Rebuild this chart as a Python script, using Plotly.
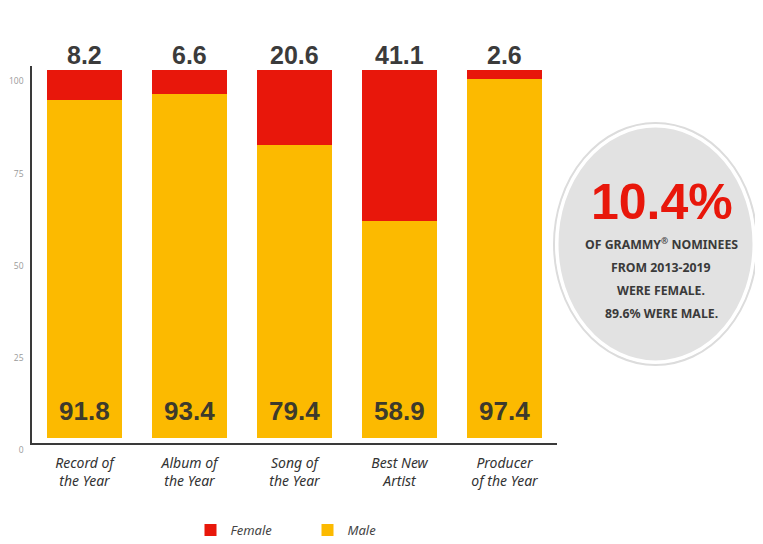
import plotly.graph_objects as go

categories = ["Record of<br>the Year", "Album of<br>the Year", "Song of<br>the Year", "Best New<br>Artist", "Producer<br>of the Year"]
female = [8.2, 6.6, 20.6, 41.1, 2.6]
male = [91.8, 93.4, 79.4, 58.9, 97.4]
y_ticks = [0, 25, 50, 75, 100]
headline = "10.4%"
callout_lines = ["OF GRAMMY<sup>®</sup> NOMINEES", "FROM 2013-2019", "WERE FEMALE.", "89.6% WERE MALE."]

RED = "#e8170b"
YEL = "#fcba00"
NUMFONT = "Liberation Sans, Arial, sans-serif"

x = list(range(len(categories)))

fig = go.Figure()
fig.add_trace(go.Bar(x=x, y=male, name="Male", marker=dict(color=YEL, line=dict(width=0)),
                     legendrank=2, hoverinfo="skip"))
fig.add_trace(go.Bar(x=x, y=female, name="Female", marker=dict(color=RED, line=dict(width=0)),
                     legendrank=1, hoverinfo="skip"))

# labels above bars (female share) and inside bars (male share)
for xi, f, m in zip(x, female, male):
    fig.add_annotation(x=xi, y=f + m, xref="x", yref="y", text=f"<b>{f}</b>", showarrow=False,
                       yanchor="bottom", yshift=-1,
                       font=dict(family=NUMFONT, size=25, color="#3b3b3b"))
    fig.add_annotation(x=xi, y=0, xref="x", yref="y", text=f"<b>{m}</b>", showarrow=False,
                       yanchor="bottom", yshift=10,
                       font=dict(family=NUMFONT, size=26, color="#3d3a2c"))

# page pixel -> paper coordinates (plot area spans page x 32..557, y 66..443)
def px_to_paper_x(p):
    return (p - 32) / 525

def px_to_paper_y(p):
    return (443 - p) / 377

# callout ellipse
fig.add_shape(type="circle", xref="paper", yref="paper",
              x0=px_to_paper_x(554), x1=px_to_paper_x(757), y0=px_to_paper_y(365), y1=px_to_paper_y(123),
              fillcolor="rgba(0,0,0,0)", line=dict(color="#dcdcdc", width=2), layer="below")
fig.add_shape(type="circle", xref="paper", yref="paper",
              x0=px_to_paper_x(557), x1=px_to_paper_x(754), y0=px_to_paper_y(362), y1=px_to_paper_y(126),
              fillcolor="#e2e2e2", line=dict(color="#ffffff", width=3), layer="below")

fig.add_annotation(x=px_to_paper_x(662), y=px_to_paper_y(202), xref="paper", yref="paper",
                   text=f"<b>{headline}</b>", showarrow=False, yanchor="middle", xanchor="center",
                   font=dict(family=NUMFONT, size=50, color=RED))
for i, line in enumerate(callout_lines):
    fig.add_annotation(x=px_to_paper_x(661), y=px_to_paper_y(244 + 23.3 * i), xref="paper", yref="paper",
                       text=f"<b>{line}</b>", showarrow=False, yanchor="middle", xanchor="center",
                       font=dict(family="Noto Sans, sans-serif", size=12.3, color="#3a3a3a"))

# The page body adds an 8px offset, so the figure is 8px smaller and margins shifted by -8
fig.update_layout(
    barmode="stack",
    bargap=0.286,
    width=755, height=536,
    margin=dict(l=24, r=206, t=58, b=101, autoexpand=False),
    paper_bgcolor="white", plot_bgcolor="white",
    showlegend=True,
    legend=dict(orientation="h", x=px_to_paper_x(190.5), y=px_to_paper_y(515), xanchor="left", yanchor="top",
                entrywidth=72, entrywidthmode="pixels", traceorder="normal",
                font=dict(family="Noto Sans, sans-serif", size=13, color="#444444", style="italic")),
    xaxis=dict(range=[-0.5, 4.5], tickmode="array", tickvals=x, ticktext=categories,
               showline=True, linecolor="#3a3a3a", linewidth=1.5, showgrid=False, zeroline=False,
               ticks="", ticklabelstandoff=6, automargin=False,
               tickfont=dict(family="Noto Sans, sans-serif", size=14, color="#333333", style="italic"),
               fixedrange=True),
    yaxis=dict(range=[-1.3, 100.95], tickmode="array", tickvals=y_ticks, ticktext=[str(t) for t in y_ticks],
               showline=True, linecolor="#3a3a3a", linewidth=1.5, showgrid=False, zeroline=False,
               ticks="", ticklabelstandoff=5, ticklabelshift=12, automargin=False,
               tickfont=dict(family="Open Sans, sans-serif", size=8.5, color="#9a9a9a"),
               fixedrange=True),
)

fig.write_html("out.html")
